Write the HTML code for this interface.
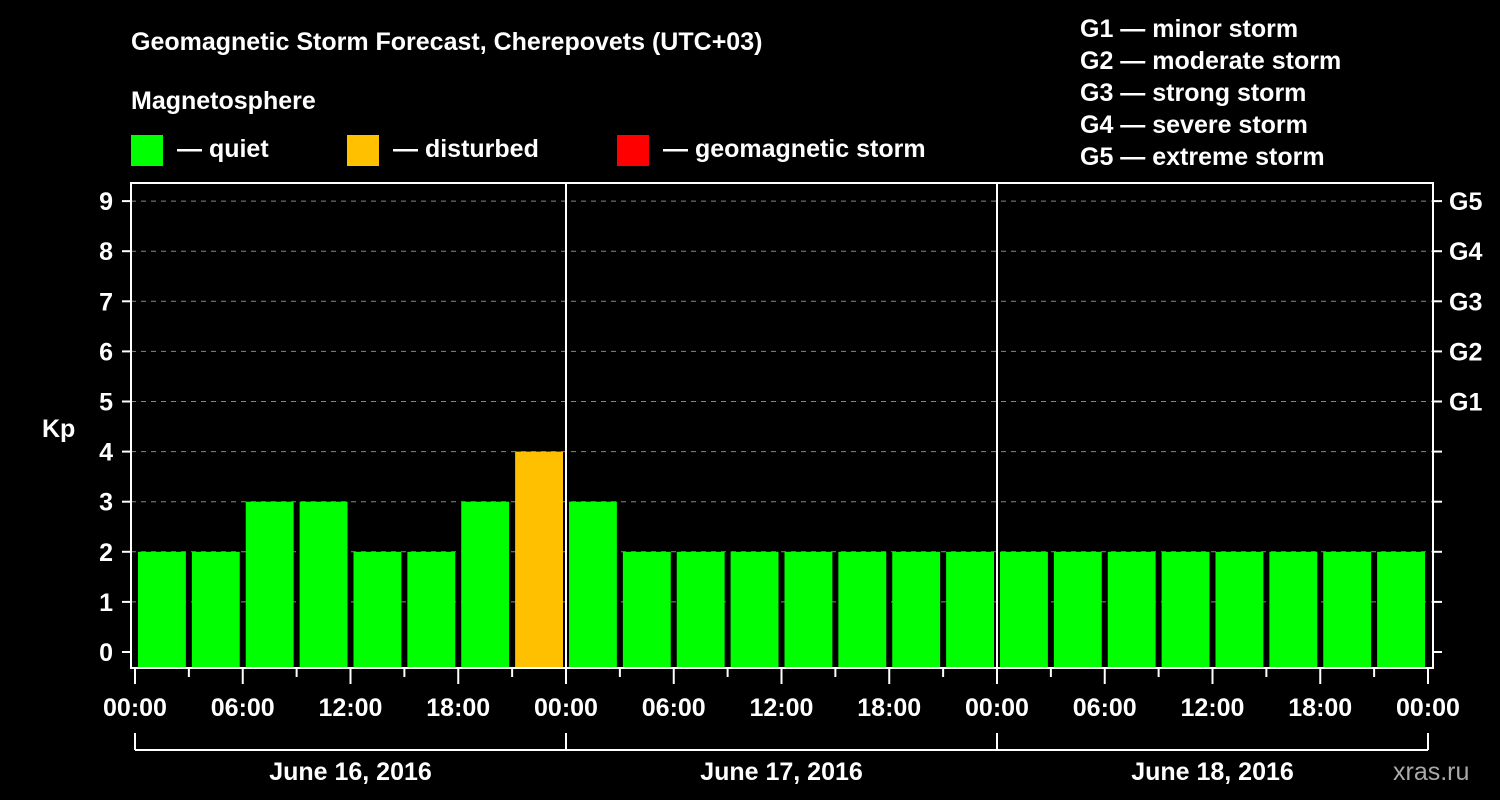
<!DOCTYPE html>
<html><head><meta charset="utf-8"><style>
html,body{margin:0;padding:0;background:#000;}
svg{display:block;font-family:"Liberation Sans",Arial,sans-serif;font-weight:bold;}
</style></head><body>
<svg id="c" width="1500" height="800" viewBox="0 0 1500 800">
<text x="131" y="50" fill="#fff" font-size="25">Geomagnetic Storm Forecast, Cherepovets (UTC+03)</text>
<text x="131" y="109" fill="#fff" font-size="25">Magnetosphere</text>
<g><rect x="131" y="135" width="32" height="31" fill="#00ff00"/><text x="177" y="157" fill="#fff" font-size="25">— quiet</text></g>
<g><rect x="347" y="135" width="32" height="31" fill="#ffc000"/><text x="393" y="157" fill="#fff" font-size="25">— disturbed</text></g>
<g><rect x="617" y="135" width="32" height="31" fill="#ff0000"/><text x="663" y="157" fill="#fff" font-size="25">— geomagnetic storm</text></g>
<g fill="#fff" font-size="25">
<text x="1080" y="37">G1 — minor storm</text><text x="1080" y="69">G2 — moderate storm</text><text x="1080" y="101">G3 — strong storm</text><text x="1080" y="133">G4 — severe storm</text><text x="1080" y="165">G5 — extreme storm</text></g>
<text x="42" y="437" fill="#fff" font-size="25">Kp</text>
<text x="1393" y="780" fill="#aaa" font-size="25" font-weight="normal">xras.ru</text>
<g id="g"></g>
</svg>
<script>
const kpValues=[2,2,3,3,2,2,3,4,3,2,2,2,2,2,2,2,2,2,2,2,2,2,2,2];
const yTicks=[0,1,2,3,4,5,6,7,8,9];
const gLabels=["G1","G2","G3","G4","G5"];
const xTickLabels=["00:00","06:00","12:00","18:00","00:00","06:00","12:00","18:00","00:00","06:00","12:00","18:00","00:00"];
const dayLabels=["June 16, 2016","June 17, 2016","June 18, 2016"];
const NS="http://www.w3.org/2000/svg",G=document.getElementById('g');
const x0=135,x1=1428,L=131,R=1433,T=183,B=668;
const X=i=>x0+(x1-x0)*i/24; // i in 3h slots
const Y=v=>652-v*50.1;
function el(t,a,txt){const e=document.createElementNS(NS,t);for(const k in a)e.setAttribute(k,a[k]);if(txt!==undefined)e.textContent=txt;G.appendChild(e);return e;}
yTicks.forEach(v=>{
  if(v>0){const l=el('line',{x1:L,x2:R,y1:Y(v),y2:Y(v),stroke:'#888','stroke-dasharray':'5,5','stroke-width':1});
  }
  const t=el('line',{x1:122,x2:L,y1:Y(v),y2:Y(v),stroke:'#fff','stroke-width':2});
  
  const t2=el('line',{x1:R,x2:1442,y1:Y(v),y2:Y(v),stroke:'#fff','stroke-width':2});
  
  const lb=el('text',{x:113,y:Y(v)+9,fill:'#fff','font-size':25,'text-anchor':'end'},String(v));
  
});
gLabels.forEach((g,i)=>{const t=el('text',{x:1449,y:Y(5+i)+9,fill:'#fff','font-size':25},g);
  });
kpValues.forEach((v,i)=>{
  const col=v>=5?'#ff0000':(v>=4?'#ffc000':'#00ff00');
  const r=el('rect',{x:X(i)+3,y:Y(v),width:X(i+1)-X(i)-6,height:B-1-Y(v),fill:col});
  
});
const f=el('rect',{x:L,y:T,width:R-L,height:B-T,fill:'none',stroke:'#fff','stroke-width':2});

[8,16].forEach(i=>{const l=el('line',{x1:X(i),x2:X(i),y1:T,y2:B,stroke:'#fff','stroke-width':2});
  });
for(let i=0;i<=24;i++){const maj=i%2==0;
  const t=el('line',{x1:X(i),x2:X(i),y1:B,y2:maj?684:677,stroke:'#fff','stroke-width':2});
  }
xTickLabels.forEach((s,i)=>{const t=el('text',{x:X(i*2),y:716,fill:'#fff','font-size':25,'text-anchor':'middle'},s);
  });
const br=el('line',{x1:X(0),x2:X(24),y1:750,y2:750,stroke:'#fff','stroke-width':2});

[0,8,16,24].forEach(i=>{const l=el('line',{x1:X(i),x2:X(i),y1:733,y2:750,stroke:'#fff','stroke-width':2});
  });
dayLabels.forEach((s,i)=>{const t=el('text',{x:(X(i*8)+X(i*8+8))/2,y:780,fill:'#fff','font-size':25,'text-anchor':'middle'},s);
  });
</script>
</body></html>
